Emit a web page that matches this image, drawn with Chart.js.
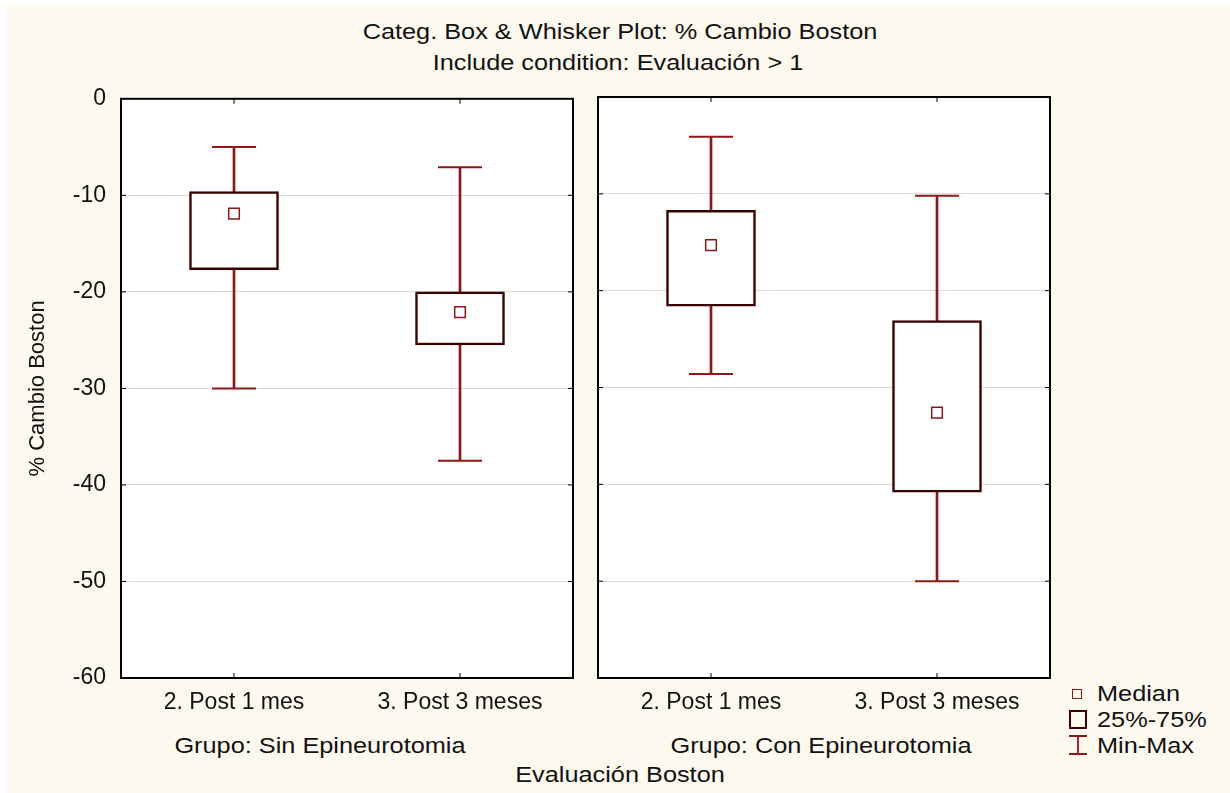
<!DOCTYPE html>
<html>
<head>
<meta charset="utf-8">
<script src="https://cdn.jsdelivr.net/npm/chart.js@4/dist/chart.umd.min.js"></script>
<style>
  html, body { margin: 0; padding: 0; background: #fff; }
  body { width: 1230px; height: 793px; position: relative; overflow: hidden; font-family: "Liberation Sans", Arial, sans-serif; color: #111; }
  #bg { position: absolute; left: 6px; top: 5px; right: 0; bottom: 0; background: #fef9ee; }
  .txt { position: absolute; font-size: 22px; white-space: nowrap; transform: translate(-50%, -50%) scaleX(1.15); }
  .wrap { position: absolute; }
  #legend { position: absolute; left: 1068px; top: 681px; font-size: 22px; }
  #legend div { position: relative; height: 26px; line-height: 26px; }
  #legend .lab { position: absolute; left: 29px; top: 0; white-space: nowrap; transform: scaleX(1.15); transform-origin: left center; }
  #legend .med { position: absolute; left: 4px; top: 8px; width: 8px; height: 8px; border: 1.5px solid #8c1818; }
  #legend .box { position: absolute; left: 1px; top: 3px; width: 14px; height: 15px; border: 2.5px solid #3a0000; }
  #legend .wh { position: absolute; left: 0px; top: 1px; width: 20px; height: 22px; }
</style>
</head>
<body>
<div id="bg"></div>
<div class="txt" style="left:620px; top:32px;">Categ. Box &amp; Whisker Plot: % Cambio Boston</div>
<div class="txt" style="left:618px; top:63px;">Include condition: Evaluación &gt; 1</div>

<div class="wrap" style="left:0px; top:70px; width:575px; height:648px;"><canvas id="c1"></canvas></div>
<div class="wrap" style="left:590px; top:87px; width:462px; height:631px;"><canvas id="c2"></canvas></div>

<div class="txt" style="left:320px; top:746px;">Grupo: Sin Epineurotomia</div>
<div class="txt" style="left:821px; top:746px;">Grupo: Con Epineurotomia</div>
<div class="txt" style="left:620px; top:775px;">Evaluación Boston</div>

<div id="legend">
  <div><span class="med"></span><span class="lab">Median</span></div>
  <div><span class="box"></span><span class="lab">25%-75%</span></div>
  <div><svg class="wh" viewBox="0 0 20 22"><path d="M1 2 H19 M10 2 V20 M1 20 H19" stroke="#8c1818" stroke-width="1.8" fill="none"/></svg><span class="lab">Min-Max</span></div>
</div>

<script>
// categories and values
const categories = ['2. Post 1 mes', '3. Post 3 meses'];
const yTicks = [0, -10, -20, -30, -40, -50, -60];

// Grupo: Sin Epineurotomia
const sinMin    = [-30.0, -37.5];
const sinQ1     = [-17.7, -25.5];
const sinMedian = [-11.9, -22.1];
const sinQ3     = [-9.6, -20.0];
const sinMax    = [-5.0, -7.1];

// Grupo: Con Epineurotomia
const conMin    = [-28.6, -50.0];
const conQ1     = [-21.6, -40.8];
const conMedian = [-15.3, -32.6];
const conQ3     = [-11.7, -23.1];
const conMax    = [-4.1, -10.2];

const whiskerColor = '#8c1818';
const boxColor = '#3a0000';
const font = { family: '"Liberation Sans", Arial, sans-serif', size: 23 };

// frame around the plot plus inward tick marks
const framePlugin = {
  id: 'frame',
  afterDraw(chart) {
    const { ctx, chartArea: a, scales } = chart;
    ctx.save();
    ctx.strokeStyle = '#000';
    ctx.lineWidth = 1;
    yTicks.forEach(v => {
      const y = scales.y.getPixelForValue(v);
      ctx.beginPath();
      ctx.moveTo(a.left, y); ctx.lineTo(a.left + 5, y);
      ctx.moveTo(a.right, y); ctx.lineTo(a.right - 5, y);
      ctx.stroke();
    });
    categories.forEach((c, i) => {
      const x = scales.x.getPixelForValue(i);
      ctx.beginPath();
      ctx.moveTo(x, a.top); ctx.lineTo(x, a.top + 5);
      ctx.moveTo(x, a.bottom); ctx.lineTo(x, a.bottom - 5);
      ctx.stroke();
    });
    ctx.lineWidth = 2;
    ctx.strokeRect(a.left, a.top, a.right - a.left, a.bottom - a.top);
    ctx.restore();
  }
};

// white plot background
const bgPlugin = {
  id: 'plotbg',
  beforeDraw(chart) {
    const { ctx, chartArea: a } = chart;
    ctx.save();
    ctx.fillStyle = '#fff';
    ctx.fillRect(a.left, a.top, a.right - a.left, a.bottom - a.top);
    ctx.restore();
  }
};

function makeChart(id, mins, q1, med, q3, maxs, showY) {
  const range = (lo, hi) => lo.map((v, i) => [v, hi[i]]);
  return new Chart(document.getElementById(id), {
    type: 'bar',
    data: {
      labels: categories,
      datasets: [
        { label: 'Min-Max', data: range(mins, maxs), grouped: false, barThickness: 2,
          backgroundColor: whiskerColor, borderWidth: 0, order: 4 },
        { label: '25%-75%', data: range(q1, q3), grouped: false, barThickness: 89,
          backgroundColor: '#fff', borderColor: boxColor, borderWidth: 2.5, borderSkipped: false, order: 3 },
        { type: 'line', label: 'max', data: maxs, showLine: false, pointStyle: 'line', pointRadius: 22,
          pointBorderColor: whiskerColor, pointBorderWidth: 2, order: 2 },
        { type: 'line', label: 'min', data: mins, showLine: false, pointStyle: 'line', pointRadius: 22,
          pointBorderColor: whiskerColor, pointBorderWidth: 2, order: 2 },
        { type: 'line', label: 'Median', data: med, showLine: false, pointStyle: 'rect', pointRadius: 7.5,
          pointBackgroundColor: '#fff', pointBorderColor: whiskerColor, pointBorderWidth: 1.5, order: 1 }
      ]
    },
    options: {
      responsive: true,
      maintainAspectRatio: false,
      animation: false,
      layout: { autoPadding: false, padding: { top: 10, right: 2, left: 0, bottom: 0 } },
      plugins: { legend: { display: false }, tooltip: { enabled: false } },
      scales: {
        x: {
          offset: true,
          grid: { display: false },
          border: { display: false },
          ticks: { color: '#111', font, padding: 3, maxRotation: 0 },
          afterFit: s => { s.height = 40; }
        },
        y: {
          min: -60, max: 0,
          afterBuildTicks: s => { s.ticks = yTicks.map(v => ({ value: v })); },
          grid: { color: '#dadada', drawTicks: false },
          border: { display: false },
          ticks: { display: showY, color: '#111', font, padding: 15 },
          title: { display: showY, text: '% Cambio Boston', color: '#111',
                   font: { family: font.family, size: 22 }, padding: { top: 25, bottom: 0 } },
          afterFit: s => { s.width = showY ? 121 : 8; }
        }
      }
    },
    plugins: [bgPlugin, framePlugin]
  });
}

makeChart('c1', sinMin, sinQ1, sinMedian, sinQ3, sinMax, true);
makeChart('c2', conMin, conQ1, conMedian, conQ3, conMax, false);
</script>
</body>
</html>
